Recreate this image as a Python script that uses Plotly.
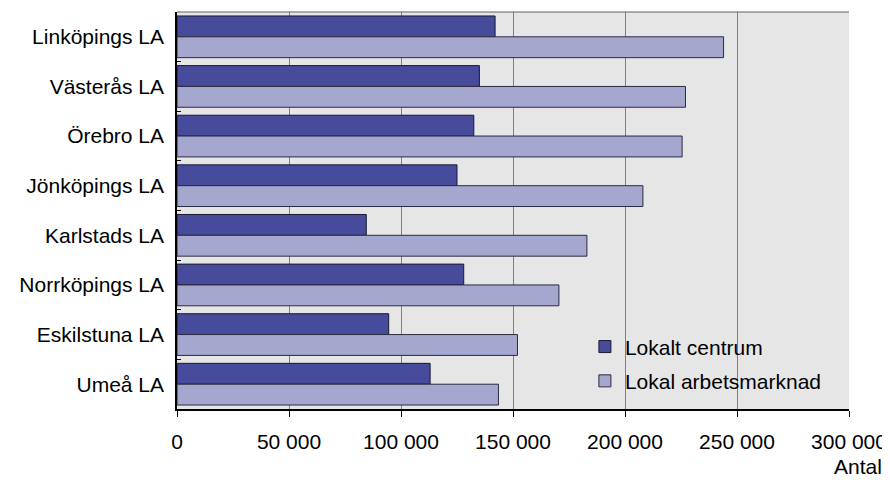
import plotly.graph_objects as go

categories = ["Linköpings LA", "Västerås LA", "Örebro LA", "Jönköpings LA",
              "Karlstads LA", "Norrköpings LA", "Eskilstuna LA", "Umeå LA"]
lokalt_centrum = [142000, 135000, 132500, 125000, 84500, 128000, 94500, 113000]
lokal_arbetsmarknad = [244000, 227000, 225500, 208000, 183000, 170500, 152000, 143500]
tick_vals = [0, 50000, 100000, 150000, 200000, 250000, 300000]
tick_text = ["0", "50 000", "100 000", "150 000", "200 000", "250 000", "300 000"]

font = "Liberation Sans, Arial, sans-serif"
fs = 21

fig = go.Figure()
fig.add_trace(go.Bar(y=categories, x=lokalt_centrum, orientation="h", name="Lokalt centrum",
                     legendgroup="a",
                     marker=dict(color="#474b9b", line=dict(color="#1a1a2e", width=1))))
fig.add_trace(go.Bar(y=categories, x=lokal_arbetsmarknad, orientation="h", name="Lokal arbetsmarknad",
                     legendgroup="b",
                     marker=dict(color="#a5a7cf", line=dict(color="#2a2a40", width=1))))

fig.update_layout(
    width=882, height=474,
    margin=dict(l=169, r=41, t=4, b=73),
    paper_bgcolor="white", plot_bgcolor="#e6e6e6",
    barmode="group", bargap=0.16, bargroupgap=0,
    font=dict(family=font, size=fs, color="black"),
    showlegend=True,
    legend=dict(x=0.607, y=0.208, xanchor="left", yanchor="top", bgcolor="rgba(0,0,0,0)",
                font=dict(size=fs), traceorder="grouped", tracegroupgap=4),
    xaxis=dict(range=[0, 300000], tickvals=tick_vals, ticktext=tick_text,
               showgrid=True, gridcolor="#808080", gridwidth=1,
               ticks="outside", ticklen=6, tickcolor="black",
               showline=True, linecolor="black", linewidth=1.5,
               zeroline=False, tickfont=dict(size=fs), ticklabelstandoff=7),
    yaxis=dict(autorange="reversed", showgrid=False, showline=True, linecolor="black",
               linewidth=1.5, ticks="inside", tickson="boundaries", ticklen=4,
               tickcolor="black", tickfont=dict(size=fs), ticklabelstandoff=7),
    annotations=[dict(text="Antal", xref="paper", yref="paper", x=1.052, y=-0.146,
                      xanchor="right", yanchor="middle", showarrow=False, font=dict(size=fs))],
    shapes=[dict(type="line", xref="paper", yref="paper", x0=0, x1=1, y0=1, y1=1,
                 line=dict(color="#606060", width=1))],
)

fig.write_html("out.html")
